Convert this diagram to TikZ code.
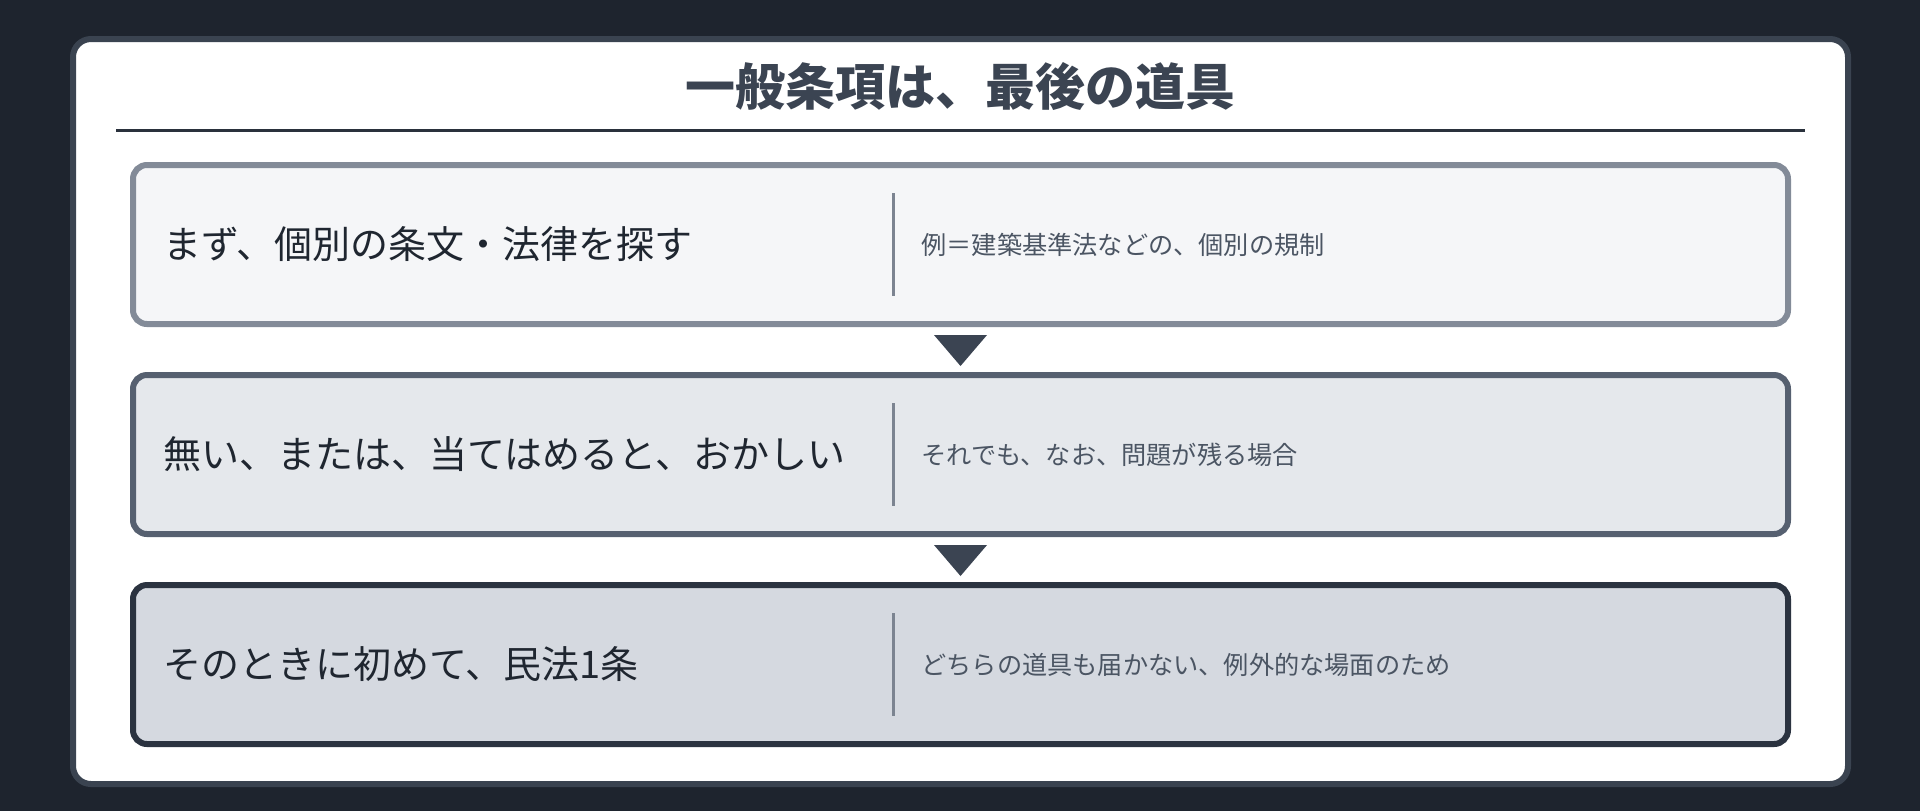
\documentclass[tikz,border=0pt]{standalone}
\usepackage{fontspec}
\setmainfont{Noto Sans CJK JP}
\definecolor{bgdark}{HTML}{1E242E}
\definecolor{cardline}{HTML}{3A4350}
\definecolor{slate}{HTML}{3B4452}
\definecolor{ruleline}{HTML}{2A313C}
\definecolor{firstfill}{HTML}{F5F6F8}
\definecolor{firstline}{HTML}{838B98}
\definecolor{secondfill}{HTML}{E5E8EC}
\definecolor{secondline}{HTML}{566070}
\definecolor{thirdfill}{HTML}{D5D9E0}
\definecolor{thirdline}{HTML}{2B3340}
\definecolor{headcol}{HTML}{1F2630}
\definecolor{notecol}{HTML}{4B5563}
\definecolor{dividercol}{HTML}{7C8491}
\begin{document}
\begin{tikzpicture}[x = 0.5pt, y = -0.5pt,
		stepbox/.style = {draw, line width = 3pt, rounded corners = 7pt, minimum width = 827.5pt, minimum height = 79.5pt, outer sep = 0pt},
		headtext/.style = {anchor = west, inner sep = 0pt, text = headcol, font = \fontsize{19pt}{23pt}\selectfont},
		notetext/.style = {anchor = west, inner sep = 0pt, text = notecol, font = \fontsize{12.6pt}{15pt}\selectfont},
		divider/.style = {draw = dividercol, line width = 1.5pt},
		arrowhead/.style = {fill = slate}]
		% background and card
		\fill[bgdark] (0, 0) rectangle (1920, 811);
		\useasboundingbox (0, 0) rectangle (1920, 811);
		\draw[cardline, fill = white, line width = 3pt, rounded corners = 9pt] (73, 39) rectangle (1848, 784);
		% title
		\node[inner sep = 0pt, text = slate, font = \fontsize{25pt}{30pt}\selectfont\bfseries] (title) at (960.5, 86) {一般条項は、最後の道具};
		\draw[ruleline, line width = 1.5pt] (116, 130.5) -- (1805, 130.5);
		% first step
		\node[stepbox, draw = firstline, fill = firstfill] (first) at (960.5, 244.5) {};
		\node[headtext] (firsthead) at (163, 244.5) {まず、個別の条文・法律を探す};
		\draw[divider] (893.5, 193) -- (893.5, 296);
		\node[notetext] (firstnote) at (921, 244.5) {例＝建築基準法などの、個別の規制};
		% second step
		\node[stepbox, draw = secondline, fill = secondfill] (second) at (960.5, 454.5) {};
		\node[headtext] (secondhead) at (163, 454.5) {無い、または、当てはめると、おかしい};
		\draw[divider] (893.5, 403) -- (893.5, 506);
		\node[notetext] (secondnote) at (921, 454.5) {それでも、なお、問題が残る場合};
		% third step
		\node[stepbox, draw = thirdline, fill = thirdfill] (third) at (960.5, 664.5) {};
		\node[headtext] (thirdhead) at (163, 664.5) {そのときに初めて、民法1条};
		\draw[divider] (893.5, 613) -- (893.5, 716);
		\node[notetext] (thirdnote) at (921, 664.5) {どちらの道具も届かない、例外的な場面のため};
		% arrows
		\fill[arrowhead] (first.south) ++(-26.5, 11) -- ++(53, 0) -- ++(-26.5, 31) -- cycle;
		\fill[arrowhead] (second.south) ++(-26.5, 11) -- ++(53, 0) -- ++(-26.5, 31) -- cycle;
	\end{tikzpicture}
\end{document}
